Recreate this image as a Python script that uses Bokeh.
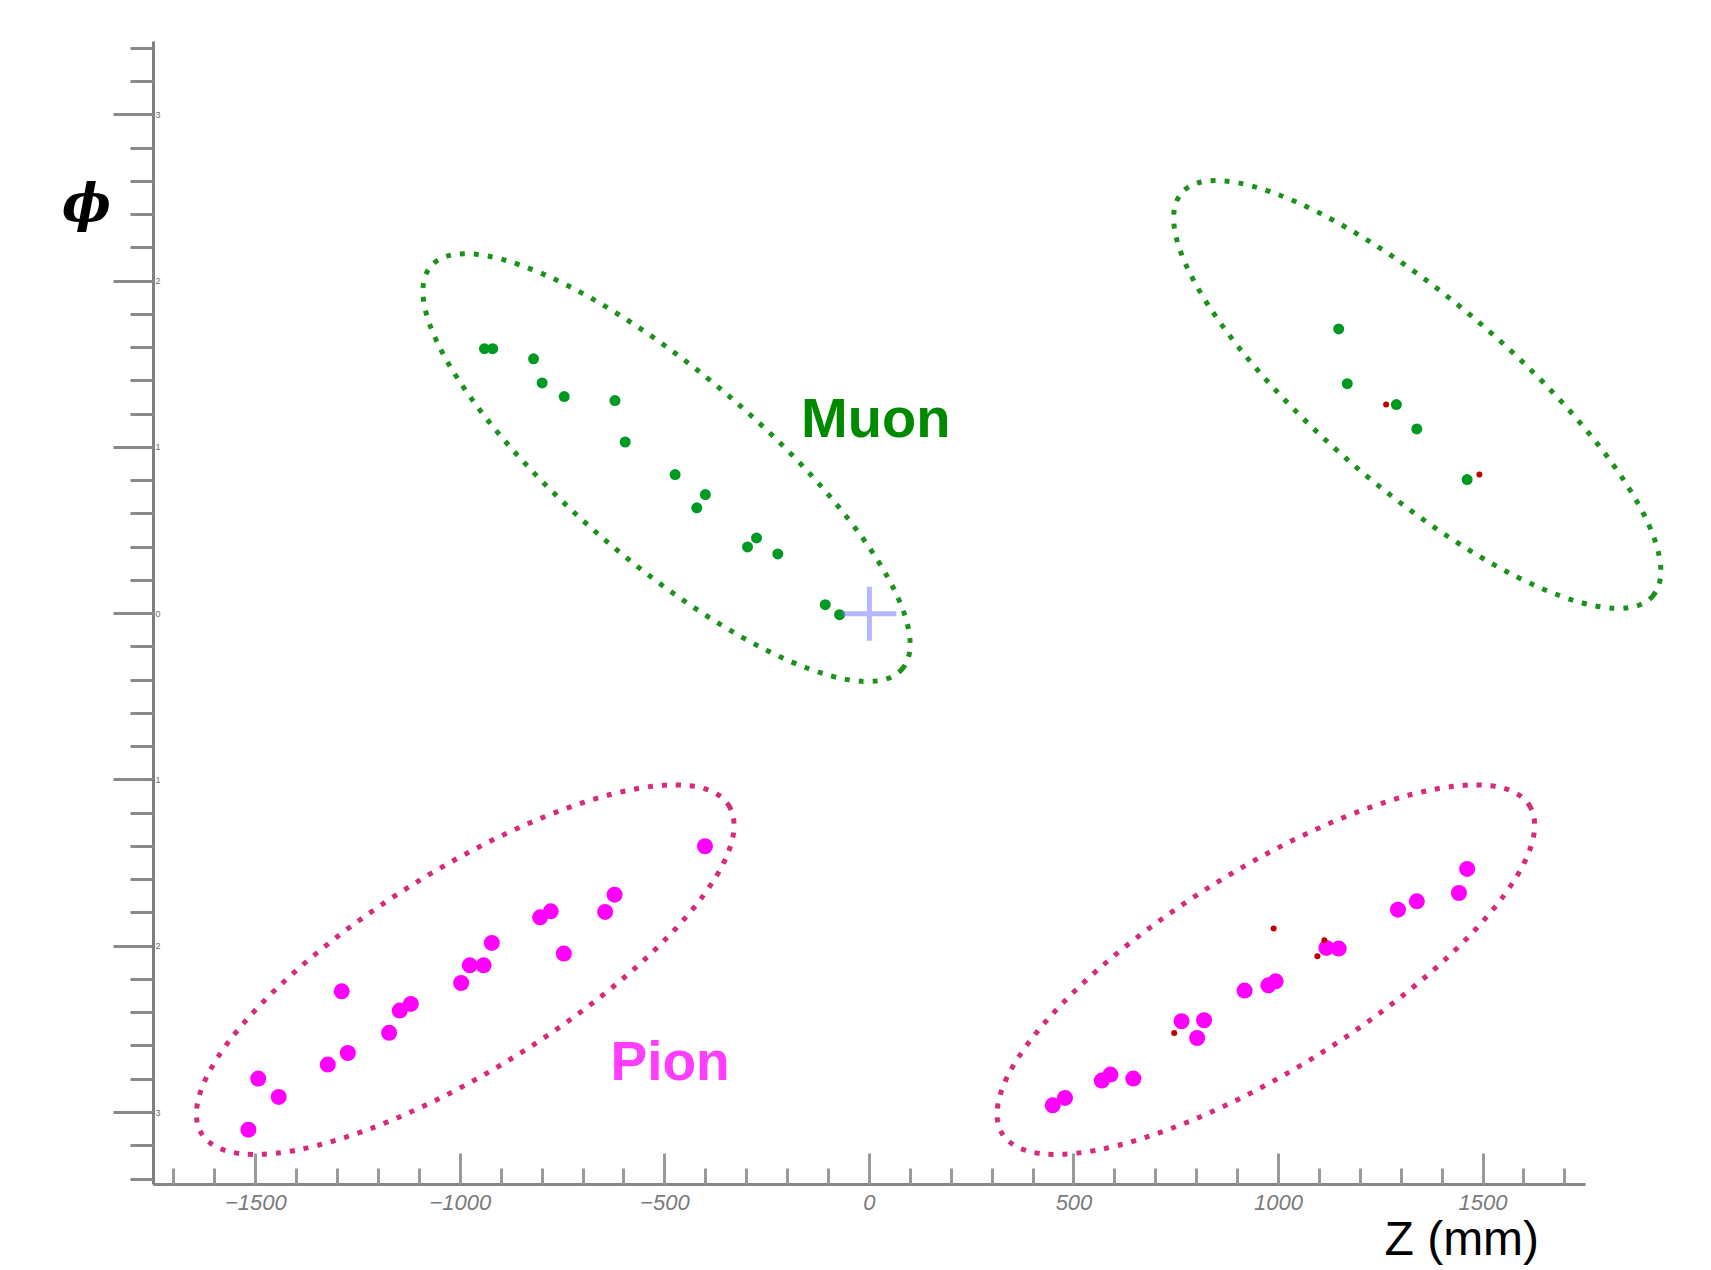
from bokeh.plotting import figure
from bokeh.models import Range1d, SingleIntervalTicker, Label, ColumnDataSource
from bokeh.embed import file_html
from bokeh.resources import INLINE

# ---- data ----
# muon hits (Z in mm, phi in rad)
muon_z = [-941, -921, -821, -800, -746, -622, -597, -475, -401, -422, -276, -298,
          -224, -108, -73, 1147, 1168, 1288, 1338, 1461]
muon_phi = [1.593, 1.593, 1.532, 1.387, 1.305, 1.281, 1.032, 0.836, 0.716, 0.636,
            0.455, 0.401, 0.359, 0.054, -0.006, 1.712, 1.383, 1.257, 1.111, 0.806]

# pion hits
pion_z = [-402, -623, -646, -779, -805, -923, -747, -977, -943, -998, -1290, -1121,
          -1148, -1174, -1275, -1324, -1494, -1444, -1518,
          1461, 1441, 1338, 1292, 1147, 1117, 993, 975, 917, 763, 818, 801, 645,
          589, 568, 478, 448]
pion_phi = [-1.399, -1.690, -1.794, -1.790, -1.826, -1.980, -2.044, -2.115, -2.115,
            -2.221, -2.271, -2.347, -2.387, -2.521, -2.642, -2.712, -2.796, -2.906,
            -3.103,
            -1.535, -1.680, -1.730, -1.780, -2.014, -2.010, -2.211, -2.235, -2.267,
            -2.451, -2.445, -2.552, -2.796, -2.772, -2.808, -2.912, -2.957]

# small red hits
red_z = [1263, 1491, 988, 1112, 1095, 745]
red_phi = [1.257, 0.836, -1.894, -1.964, -2.061, -2.522]

# dotted selection ellipses: centre (data), length/width (px), angle (rad)
ell_z = [-496, 1339, -988, 969]
ell_phi = [0.878, 1.318, -2.141, -2.141]
ell_len = [620, 620, 621, 621]
ell_wid = [190, 190, 200, 200]
ell_ang = [-0.707, -0.707, 0.557, 0.557]
ell_col = ["#1c911c", "#1c911c", "#d62a7a", "#d62a7a"]

# axis extents
z_lo, z_hi = -1750, 1750
phi_lo, phi_hi = -3.43, 3.44

p = figure(frame_width=1708, frame_height=1268,
           x_range=Range1d(-2124.0, 2051.0), y_range=Range1d(-3.938, 3.687),
           output_backend="svg", toolbar_location=None,
           min_border_left=0, min_border_right=0,
           min_border_top=0, min_border_bottom=0)
p.grid.visible = False
p.outline_line_color = None
p.background_fill_color = "white"
p.border_fill_color = "white"

# x axis
xa = p.xaxis[0]
xa.ticker = SingleIntervalTicker(interval=500, num_minor_ticks=5)
xa.bounds = (z_lo, z_hi)
xa.fixed_location = phi_lo
xa.axis_line_color = "#858585"
xa.axis_line_width = 3
xa.major_tick_line_color = "#9a9a9a"
xa.major_tick_line_width = 3
xa.minor_tick_line_color = "#9a9a9a"
xa.minor_tick_line_width = 3
xa.major_tick_in = 31
xa.major_tick_out = 0
xa.minor_tick_in = 16
xa.minor_tick_out = 0
xa.major_label_standoff = 11
xa.major_label_text_font = "Liberation Sans"
xa.major_label_text_font_style = "italic"
xa.major_label_text_font_size = "22px"
xa.major_label_text_color = "#7a7a7a"

# y axis
ya = p.yaxis[0]
ya.ticker = SingleIntervalTicker(interval=1, num_minor_ticks=5)
ya.bounds = (phi_lo, phi_hi)
ya.fixed_location = z_lo
ya.axis_line_color = "#7f7f7f"
ya.axis_line_width = 3
ya.major_tick_line_color = "#8a8a8a"
ya.major_tick_line_width = 3
ya.minor_tick_line_color = "#8a8a8a"
ya.minor_tick_line_width = 3
ya.major_tick_in = 0
ya.major_tick_out = 40
ya.minor_tick_in = 0
ya.minor_tick_out = 23
ya.major_label_standoff = -47
ya.major_label_text_font = "Liberation Sans"
ya.major_label_text_font_size = "9px"
ya.major_label_text_color = "#6a6a6a"

# ellipses
esrc = ColumnDataSource(dict(x=ell_z, y=ell_phi, w=ell_len, h=ell_wid, a=ell_ang, c=ell_col))
p.ellipse(x="x", y="y", width="w", height="h", angle="a", source=esrc,
          width_units="screen", height_units="screen",
          fill_color=None, line_color="c", line_width=5, line_dash="5 9")

# hits
p.scatter(muon_z, muon_phi, size=11, marker="circle",
          fill_color="#009a22", line_color=None)
p.scatter(pion_z, pion_phi, size=16, marker="circle",
          fill_color="#ff00ff", line_color=None)
p.scatter(red_z, red_phi, size=6, marker="circle",
          fill_color="#c00000", line_color=None)

# interaction point marker
p.scatter([0], [0], marker="cross", size=54, line_color="#6f6fff",
          line_alpha=0.5, line_width=5)

# text labels
p.add_layout(Label(x=-167, y=1.177, text="Muon", text_font="Liberation Sans",
                   text_font_style="bold", text_font_size="56px",
                   text_color="#008a00", text_baseline="alphabetic"))
p.add_layout(Label(x=-633, y=-2.688, text="Pion", text_font="Liberation Sans",
                   text_font_style="bold", text_font_size="55px",
                   text_color="#ff3dff", text_baseline="alphabetic"))
p.add_layout(Label(x=1259, y=-3.758, text="Z (mm)", text_font="Liberation Sans",
                   text_font_size="48px", text_color="black",
                   text_baseline="alphabetic"))
p.add_layout(Label(x=-1914, y=2.47, text="\u03d5", text_font="DejaVu Serif",
                   text_font_style="bold italic", text_font_size="52px",
                   text_color="black", text_align="center", text_baseline="middle"))

open("out.html", "w").write(file_html(p, INLINE))
